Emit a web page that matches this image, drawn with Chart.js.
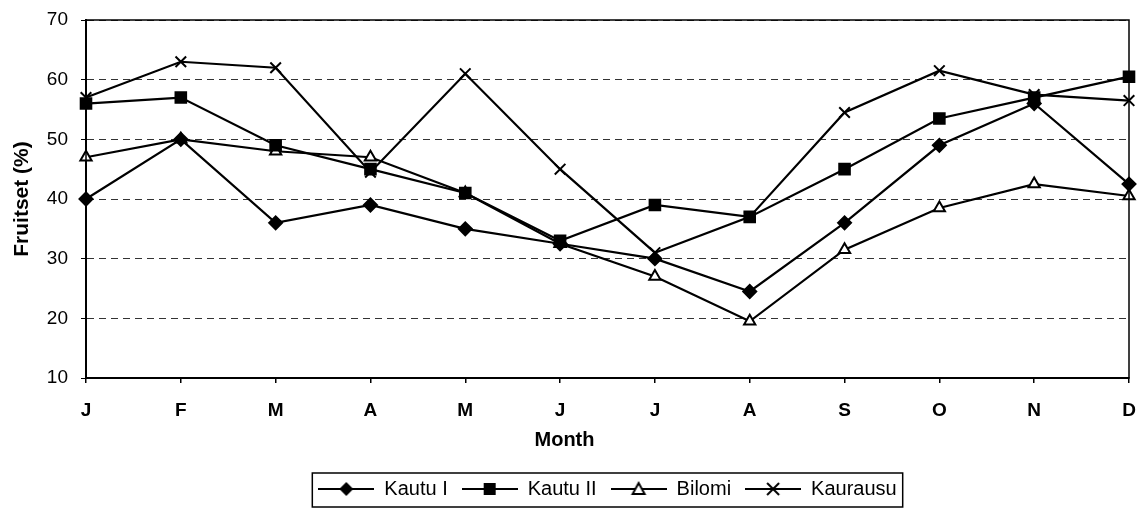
<!DOCTYPE html>
<html>
<head>
<meta charset="utf-8">
<script src="https://cdn.jsdelivr.net/npm/chart.js@4/dist/chart.umd.min.js"></script>
<style>
  html, body { margin: 0; padding: 0; background: #fff; }
  #wrap { width: 1143px; height: 512px; }
</style>
</head>
<body>
<div id="wrap"><canvas id="c" width="1143" height="512"></canvas></div>
<script>
const months = ['J','F','M','A','M','J','J','A','S','O','N','D'];
const kautuI   = [40, 50, 36, 39, 35, 32.5, 30, 24.5, 36, 49, 56, 42.5];
const kautuII  = [56, 57, 49, 45, 41, 33, 39, 37, 45, 53.5, 57, 60.5];
const bilomi   = [47, 50, 48, 47, 41, 32.5, 27, 19.5, 31.5, 38.5, 42.5, 40.5];
const kaurausu = [57, 63, 62, 44.5, 61, 45, 31, 37, 54.5, 61.5, 57.5, 56.5];
const seriesNames = ['Kautu I', 'Kautu II', 'Bilomi', 'Kaurausu'];
const yTicks = [10, 20, 30, 40, 50, 60, 70];

const FONT = '"Liberation Sans", Arial, sans-serif';

function legendIcon(style) {
  const w = 56, h = 20;
  const cv = document.createElement('canvas');
  cv.width = w; cv.height = h;
  const g = cv.getContext('2d');
  g.strokeStyle = '#000'; g.lineWidth = 2;
  g.beginPath(); g.moveTo(0, h/2); g.lineTo(w, h/2); g.stroke();
  const cx = w/2, cy = h/2;
  g.fillStyle = '#000';
  if (style === 'diamond') {
    g.beginPath(); g.moveTo(cx, cy-7); g.lineTo(cx+7, cy); g.lineTo(cx, cy+7); g.lineTo(cx-7, cy); g.closePath(); g.fill();
  } else if (style === 'square') {
    g.fillRect(cx-6, cy-6, 12, 12);
  } else if (style === 'triangle') {
    g.fillStyle = '#fff';
    g.beginPath(); g.moveTo(cx, cy-6); g.lineTo(cx+6, cy+5); g.lineTo(cx-6, cy+5); g.closePath(); g.fill(); g.stroke();
  } else if (style === 'cross') {
    g.beginPath(); g.moveTo(cx-6, cy-6); g.lineTo(cx+6, cy+6); g.moveTo(cx+6, cy-6); g.lineTo(cx-6, cy+6); g.stroke();
  }
  return cv;
}
const icons = [legendIcon('diamond'), legendIcon('square'), legendIcon('triangle'), legendIcon('cross')];

const frame = {
  id: 'frame',
  afterLayout(chart) {
    const lg = chart.legend, a = chart.chartArea;
    if (!lg || !a) return;
    const d = (a.left + a.right) / 2 - (lg.left + lg.right) / 2;
    lg.left += d; lg.right += d;
  },
  afterDatasetsDraw(chart) {
    const {ctx, chartArea: a} = chart;
    ctx.save();
    ctx.strokeStyle = '#000';
    ctx.lineWidth = 1.5;
    ctx.strokeRect(a.left, a.top, a.right - a.left, a.bottom - a.top);
    ctx.restore();
  },
  afterDraw(chart) {
    const lg = chart.legend;
    if (!lg || !lg.legendHitBoxes || !lg.legendHitBoxes.length) return;
    let l = Infinity, r = -Infinity, t = Infinity, b = -Infinity;
    lg.legendHitBoxes.forEach(h => {
      l = Math.min(l, h.left); r = Math.max(r, h.left + h.width);
      t = Math.min(t, h.top); b = Math.max(b, h.top + h.height);
    });
    const ctx = chart.ctx;
    ctx.save();
    ctx.strokeStyle = '#000'; ctx.lineWidth = 1.5;
    ctx.strokeRect(l - 6, t - 6, (r - l) + 12, (b - t) + 14);
    ctx.restore();
  }
};

const common = { borderColor: '#000', borderWidth: 2.2, pointBorderColor: '#000', pointBorderWidth: 2, tension: 0 };

new Chart(document.getElementById('c'), {
  type: 'line',
  data: {
    labels: months,
    datasets: [
      Object.assign({ label: seriesNames[0], data: kautuI, pointStyle: 'rectRot', pointRadius: 6.5, pointBackgroundColor: '#000' }, common),
      Object.assign({ label: seriesNames[1], data: kautuII, pointStyle: 'rect', pointRadius: 7.5, pointBackgroundColor: '#000' }, common),
      Object.assign({ label: seriesNames[2], data: bilomi, pointStyle: 'triangle', pointRadius: 6.5, pointBackgroundColor: '#fff' }, common),
      Object.assign({ label: seriesNames[3], data: kaurausu, pointStyle: 'crossRot', pointRadius: 7.5, pointBackgroundColor: '#000' }, common)
    ]
  },
  options: {
    responsive: false,
    animation: false,
    devicePixelRatio: 1,
    layout: { padding: { top: 20, right: 14, left: 0, bottom: 3 } },
    plugins: {
      tooltip: { enabled: false },
      title: {
        display: true, position: 'bottom', text: 'Month', weight: 500,
        color: '#000', font: { family: FONT, size: 20, weight: 'bold', lineHeight: 1.2 },
        padding: { top: 0, bottom: 13 }
      },
      legend: {
        position: 'bottom', weight: 2000,
        labels: {
          usePointStyle: true, pointStyleWidth: 56, boxHeight: 20,
          color: '#000', font: { family: FONT, size: 20 }, padding: 14,
          generateLabels(chart) {
            return chart.data.datasets.map((d, i) => ({
              text: d.label, pointStyle: icons[i], fillStyle: '#000', strokeStyle: '#000',
              lineWidth: 0, hidden: false, datasetIndex: i, fontColor: '#000'
            }));
          }
        }
      }
    },
    scales: {
      x: {
        type: 'category',
        offset: false,
        afterFit(s) { s.height = 50; s.paddingLeft = 0; s.paddingRight = 0; },
        border: { display: true, color: '#000', width: 2 },
        grid: { display: true, drawOnChartArea: false, drawTicks: true, tickLength: 5, color: '#000', lineWidth: 1.5 },
        ticks: { color: '#000', font: { family: FONT, size: 19, weight: 'bold' }, padding: 16, maxRotation: 0, autoSkip: false }
      },
      y: {
        min: 10, max: 70,
        afterBuildTicks(s) { s.ticks = yTicks.map(v => ({ value: v })); },
        afterFit(s) { s.width = 86; s.paddingTop = 0; s.paddingBottom = 0; },
        border: { display: true, color: '#000', width: 2, dash: [7, 5] },
        grid: {
          color: '#333', lineWidth: 1, tickLength: 5, tickColor: '#000', tickBorderDash: []
        },
        ticks: { color: '#000', font: { family: FONT, size: 19 }, padding: 13 },
        title: {
          display: true, text: 'Fruitset (%)', color: '#000',
          font: { family: FONT, size: 21, weight: 'bold', lineHeight: 1.2 }, padding: { top: 10, bottom: 0 }
        }
      }
    }
  },
  plugins: [frame]
});
</script>
</body>
</html>
